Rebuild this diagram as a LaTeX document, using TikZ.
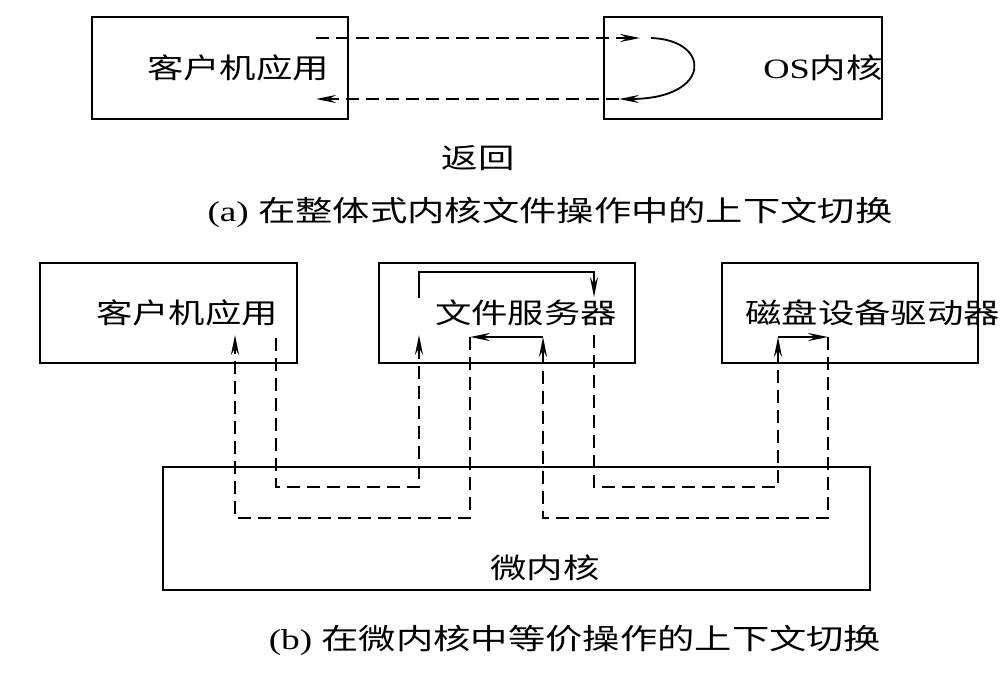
\documentclass[tikz,border=0pt]{standalone}
\usepackage{fontspec}
\setmainfont{Liberation Serif}[FakeStretch=1.3]
\newfontfamily\cjk{Noto Sans CJK SC}[FakeStretch=1.3]
\usetikzlibrary{arrows.meta,positioning}

\begin{document}
\begin{tikzpicture}[x=1pt,y=-1pt,>={Stealth[length=20pt,width=8pt,inset=7pt]},
 font=\fontsize{28}{32}\selectfont,
 box/.style={draw,line width=2.8pt,inner sep=0pt},
 lbl/.style={inner sep=0pt,anchor=center},
 call/.style={->,line width=2.4pt,dash pattern=on 13pt off 7pt},
 inner/.style={->,line width=2.4pt}, turn/.style={->,line width=1.8pt},
 caption/.style={lbl,font=\fontsize{28.7}{32}\selectfont}]
\useasboundingbox (0,0) rectangle (1008,675);

% (a) monolithic kernel
\node[box,minimum width=256pt,minimum height=102pt] (cliA) at (220,68) {};
\node[box,minimum width=278pt,minimum height=102pt] (osA) at (743,68) {};
\node[lbl] (cliAtxt) at (238,68) {\cjk 客户机应用};
\node[lbl] (osAtxt) at (823,68) {OS{\cjk 内核}};
\coordinate (goA) at (316,38);
\coordinate (inA) at (640,38);
\coordinate (upA) at (651,38);
\coordinate (outA) at (619,99);
\coordinate (backA) at (316,99);
\draw[call] (goA) -- (inA);
\draw[turn] (upA) .. controls (712,40) and (712,99) .. (outA);
\draw[call] (outA) -- (backA);
\node[lbl] (retA) at (478,158) {\cjk 返回};
\node[caption] (capA) at (550,212) {(a) {\cjk 在整体式内核文件操作中的上下文切换}};

% (b) microkernel
\node[box,minimum width=257pt,minimum height=100pt] (cliB) at (168.5,313) {};
\node[box,minimum width=256pt,minimum height=100pt] (srvB) at (507,313) {};
\node[box,minimum width=256pt,minimum height=100pt] (dskB) at (850,313) {};
\node[box,minimum width=707pt,minimum height=123pt] (krnB) at (516.5,528.5) {};
\node[lbl] (cliBtxt) at (187,313) {\cjk 客户机应用};
\node[lbl] (srvBtxt) at (526,313) {\cjk 文件服务器};
\node[lbl,anchor=west] (dskBtxt) at (745,313) {\cjk 磁盘设备驱动器};
\node[lbl] (krnBtxt) at (545,568) {\cjk 微内核};

% request path
\coordinate (r1) at (276,338);
\coordinate (r2) at (276,487);
\coordinate (r3) at (419,487);
\coordinate (r4) at (419,335);
\coordinate (s1) at (419,298);
\coordinate (s2) at (419,272);
\coordinate (s3) at (594,272);
\coordinate (s4) at (594,297);
\coordinate (r5) at (594,335);
\coordinate (r6) at (594,487);
\coordinate (r7) at (778,487);
\coordinate (r8) at (778,337);
\coordinate (d1) at (828,337);
% reply path
\coordinate (b1) at (828,518);
\coordinate (b2) at (543,518);
\coordinate (b3) at (543,337);
\coordinate (b4) at (470,337);
\coordinate (b5) at (470,518);
\coordinate (b6) at (235,518);
\coordinate (b7) at (235,335);

\draw[call] (r1) -- (r2) -- (r3) -- (r4);
\draw[inner] (s1) -- (s2) -- (s3) -- (s4);
\draw[call] (r5) -- (r6) -- (r7) -- (r8);
\draw[inner] (r8) -- (d1);
\draw[call] (d1) -- (b1) -- (b2) -- (b3);
\draw[inner] (b3) -- (b4);
\draw[call] (b4) -- (b5) -- (b6) -- (b7);

\node[caption] (capB) at (575,640) {(b) {\cjk 在微内核中等价操作的上下文切换}};
\end{tikzpicture}
\end{document}
